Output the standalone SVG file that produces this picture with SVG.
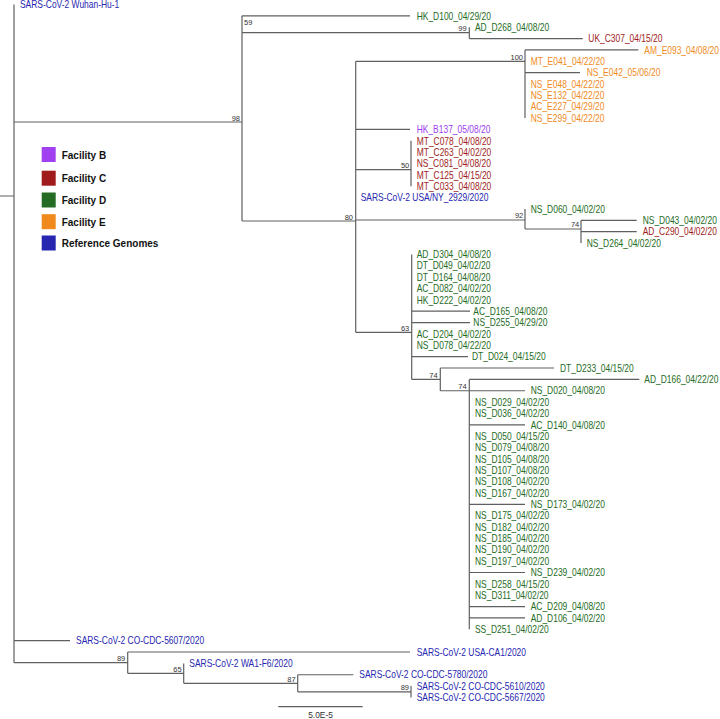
<svg xmlns="http://www.w3.org/2000/svg" width="720" height="719" viewBox="0 0 720 719">
<style>
.br{fill:none;stroke:#606060;stroke-width:1.2}
.lf{font-family:"Liberation Sans",Arial,sans-serif;font-size:10.2px}
.bs{font-family:"Liberation Sans",Arial,sans-serif;font-size:7.5px;fill:#333;text-anchor:end}
.lg{font-family:"Liberation Sans",Arial,sans-serif;font-size:10px;font-weight:bold;fill:#111}
.B{fill:#a040f0}.C{fill:#a01c1c}.D{fill:#246b24}.E{fill:#f08a1c}.R{fill:#2626b0}
</style>
<rect width="720" height="719" fill="#fff"/>
<g id="connectors" class="br">
<path d="M0,196H14M14,4.5V662.7M14,122H242M242,15.86V221M242,15.86H410M242,32.7H469.3M469.3,27.22V38.58M469.3,38.58H582.7M242,221H355.7M355.7,61.3V332.3M355.7,61.3H525M525,49.94V118.1M525,49.94H638.3M525,72.66H580M355.7,129.46H410M355.7,169.7H411M411,140.82V186.26M355.7,220H525M525,208.98V229M525,229H581M581,220.34V243.06M581,220.34H636.7M581,231.7H636.7M355.7,332.3H411.7M411.7,254.42V379.38M411.7,311.22H470M411.7,322.58H470M411.7,356.66H468M411.7,379.38H440.3M440.3,368.02V390.74M440.3,368.02H554M440.3,390.74H469.3M469.3,379.38V629.3M469.3,379.38H639.3M469.3,390.74H525M469.3,424.82H525M469.3,504.34H525M469.3,572.5H525M469.3,606.58H525M469.3,617.94H525M14,640.66H70M14,662.7H127.7M127.7,652.02V673.3M127.7,652.02H410M127.7,673.3H183.7M183.7,663.38V683.3M183.7,683.3H297.7M297.7,674.74V691.8M297.7,674.74H353.3M297.7,691.8H411M411,686.1V697.46"/>
</g>
<g id="support" class="bs">
<text x="240" y="120.5">98</text>
<text x="244" y="25" style="text-anchor:start">59</text>
<text x="466.7" y="31">99</text>
<text x="523" y="59.8">100</text>
<text x="353" y="219.5">80</text>
<text x="409.3" y="168">50</text>
<text x="523.3" y="218">92</text>
<text x="579.3" y="227.3">74</text>
<text x="409.3" y="330.7">63</text>
<text x="437.7" y="377.5">74</text>
<text x="466.7" y="389">74</text>
<text x="125.3" y="660.7">89</text>
<text x="181.7" y="671.7">65</text>
<text x="295.7" y="681.5">87</text>
<text x="409" y="690">89</text>
</g>
<g id="leaves" class="lf" transform="scale(0.828,1)">
<g id="n0"><text class="R" x="24.15" y="8.2">SARS-CoV-2 Wuhan-Hu-1</text></g>
<g id="n1"><text class="D" x="503.26" y="19.56">HK_D100_04/29/20</text></g>
<g id="n2"><text class="D" x="573.67" y="30.92">AD_D268_04/08/20</text></g>
<g id="n3"><text class="C" x="710.51" y="42.28">UK_C307_04/15/20</text></g>
<g id="n4"><text class="E" x="778.14" y="53.64">AM_E093_04/08/20</text></g>
<g id="n5"><text class="E" x="640.94" y="65">MT_E041_04/22/20</text></g>
<g id="n6"><text class="E" x="708.57" y="76.36">NS_E042_05/06/20</text></g>
<g id="n7"><text class="E" x="640.94" y="87.72">NS_E048_04/22/20</text></g>
<g id="n8"><text class="E" x="640.94" y="99.08">NS_E132_04/22/20</text></g>
<g id="n9"><text class="E" x="640.94" y="110.44">AC_E227_04/29/20</text></g>
<g id="n10"><text class="E" x="640.94" y="121.8">NS_E299_04/22/20</text></g>
<g id="n11"><text class="B" x="503.26" y="133.16">HK_B137_05/08/20</text></g>
<g id="n12"><text class="C" x="503.26" y="144.52">MT_C078_04/08/20</text></g>
<g id="n13"><text class="C" x="503.26" y="155.88">MT_C263_04/02/20</text></g>
<g id="n14"><text class="C" x="503.26" y="167.24">NS_C081_04/08/20</text></g>
<g id="n15"><text class="C" x="503.26" y="178.6">MT_C125_04/15/20</text></g>
<g id="n16"><text class="C" x="503.26" y="189.96">MT_C033_04/08/20</text></g>
<g id="n17"><text class="R" x="435.63" y="201.32">SARS-CoV-2 USA/NY_2929/2020</text></g>
<g id="n18"><text class="D" x="640.94" y="212.68">NS_D060_04/02/20</text></g>
<g id="n19"><text class="D" x="776.21" y="224.04">NS_D043_04/02/20</text></g>
<g id="n20"><text class="C" x="776.21" y="235.4">AD_C290_04/02/20</text></g>
<g id="n21"><text class="D" x="708.57" y="246.76">NS_D264_04/02/20</text></g>
<g id="n22"><text class="D" x="503.26" y="258.12">AD_D304_04/08/20</text></g>
<g id="n23"><text class="D" x="503.26" y="269.48">DT_D049_04/02/20</text></g>
<g id="n24"><text class="D" x="503.26" y="280.84">DT_D164_04/08/20</text></g>
<g id="n25"><text class="D" x="503.26" y="292.2">AC_D082_04/02/20</text></g>
<g id="n26"><text class="D" x="503.26" y="303.56">HK_D222_04/02/20</text></g>
<g id="n27"><text class="D" x="571.62" y="314.92">AC_D165_04/08/20</text></g>
<g id="n28"><text class="D" x="571.62" y="326.28">NS_D255_04/29/20</text></g>
<g id="n29"><text class="D" x="503.26" y="337.64">AC_D204_04/02/20</text></g>
<g id="n30"><text class="D" x="503.26" y="349">NS_D078_04/22/20</text></g>
<g id="n31"><text class="D" x="570.05" y="360.36">DT_D024_04/15/20</text></g>
<g id="n32"><text class="D" x="676.33" y="371.72">DT_D233_04/15/20</text></g>
<g id="n33"><text class="D" x="778.14" y="383.08">AD_D166_04/22/20</text></g>
<g id="n34"><text class="D" x="640.94" y="394.44">NS_D020_04/08/20</text></g>
<g id="n35"><text class="D" x="573.67" y="405.8">NS_D029_04/02/20</text></g>
<g id="n36"><text class="D" x="573.67" y="417.16">NS_D036_04/02/20</text></g>
<g id="n37"><text class="D" x="640.94" y="428.52">AC_D140_04/08/20</text></g>
<g id="n38"><text class="D" x="573.67" y="439.88">NS_D050_04/15/20</text></g>
<g id="n39"><text class="D" x="573.67" y="451.24">NS_D079_04/08/20</text></g>
<g id="n40"><text class="D" x="573.67" y="462.6">NS_D105_04/08/20</text></g>
<g id="n41"><text class="D" x="573.67" y="473.96">NS_D107_04/08/20</text></g>
<g id="n42"><text class="D" x="573.67" y="485.32">NS_D108_04/02/20</text></g>
<g id="n43"><text class="D" x="573.67" y="496.68">NS_D167_04/02/20</text></g>
<g id="n44"><text class="D" x="640.94" y="508.04">NS_D173_04/02/20</text></g>
<g id="n45"><text class="D" x="573.67" y="519.4">NS_D175_04/02/20</text></g>
<g id="n46"><text class="D" x="573.67" y="530.76">NS_D182_04/02/20</text></g>
<g id="n47"><text class="D" x="573.67" y="542.12">NS_D185_04/02/20</text></g>
<g id="n48"><text class="D" x="573.67" y="553.48">NS_D190_04/02/20</text></g>
<g id="n49"><text class="D" x="573.67" y="564.84">NS_D197_04/02/20</text></g>
<g id="n50"><text class="D" x="640.94" y="576.2">NS_D239_04/02/20</text></g>
<g id="n51"><text class="D" x="573.67" y="587.56">NS_D258_04/15/20</text></g>
<g id="n52"><text class="D" x="573.67" y="598.92">NS_D311_04/02/20</text></g>
<g id="n53"><text class="D" x="640.94" y="610.28">AC_D209_04/08/20</text></g>
<g id="n54"><text class="D" x="640.94" y="621.64">AD_D106_04/02/20</text></g>
<g id="n55"><text class="D" x="573.67" y="633">SS_D251_04/02/20</text></g>
<g id="n56"><text class="R" x="91.79" y="644.36">SARS-CoV-2 CO-CDC-5607/2020</text></g>
<g id="n57"><text class="R" x="503.26" y="655.72">SARS-CoV-2 USA-CA1/2020</text></g>
<g id="n58"><text class="R" x="228.62" y="667.08">SARS-CoV-2 WA1-F6/2020</text></g>
<g id="n59"><text class="R" x="433.94" y="678.44">SARS-CoV-2 CO-CDC-5780/2020</text></g>
<g id="n60"><text class="R" x="503.26" y="689.8">SARS-CoV-2 CO-CDC-5610/2020</text></g>
<g id="n61"><text class="R" x="503.26" y="701.16">SARS-CoV-2 CO-CDC-5667/2020</text></g>
</g>
<g id="legend">
<rect class="B" x="41.7" y="147" width="14" height="15"/><text class="lg" x="61.7" y="158.5">Facility B</text>
<rect class="C" x="41.7" y="170.7" width="14" height="15"/><text class="lg" x="61.7" y="182.2">Facility C</text>
<rect class="D" x="41.7" y="192.5" width="14" height="15"/><text class="lg" x="61.7" y="204">Facility D</text>
<rect class="E" x="41.7" y="214.2" width="14" height="15"/><text class="lg" x="61.7" y="225.7">Facility E</text>
<rect class="R" x="41.7" y="235.5" width="14" height="15"/><text class="lg" x="61.7" y="247">Reference Genomes</text>
</g>
<g id="scalebar">
<path class="br" d="M278.3,706.7H362.7"/>
<text class="bs" x="320.5" y="717.5" style="text-anchor:middle;font-size:8.4px">5.0E-5</text>
</g>
</svg>
